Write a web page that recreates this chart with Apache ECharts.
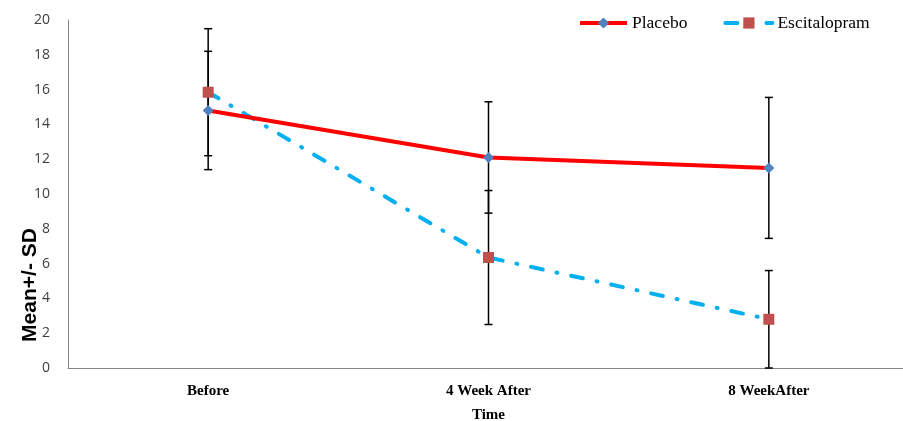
<!DOCTYPE html>
<html>
<head>
<meta charset="utf-8">
<script src="https://cdn.jsdelivr.net/npm/echarts@6/dist/echarts.min.js"></script>
<style>html,body{margin:0;padding:0;background:#fff;}#c{width:903px;height:421px;}</style>
</head>
<body>
<div id="c"></div>
<script>
var categories = ['Before', '4 Week After', '8 WeekAfter'];
var placeboMean = [14.8, 12.1, 11.5];
var placeboSD = [3.4, 3.2, 4.05];
var escitalopramMean = [15.85, 6.35, 2.8];
var escitalopramSD = [3.65, 3.85, 2.8];
var yTicks = [0, 2, 4, 6, 8, 10, 12, 14, 16, 18, 20];

function errData(mean, sd) {
  return mean.map(function (m, i) { return [i, m - sd[i], m + sd[i]]; });
}

function renderErr(params, api) {
  var x = api.value(0);
  var lo = api.coord([x, api.value(1)]);
  var hi = api.coord([x, api.value(2)]);
  var w = 4;
  var st = { stroke: '#000', lineWidth: 1.5 };
  return {
    type: 'group',
    children: [
      { type: 'line', shape: { x1: hi[0], y1: hi[1], x2: lo[0], y2: lo[1] }, style: st },
      { type: 'line', shape: { x1: hi[0] - w, y1: hi[1], x2: hi[0] + w, y2: hi[1] }, style: st },
      { type: 'line', shape: { x1: lo[0] - w, y1: lo[1], x2: lo[0] + w, y2: lo[1] }, style: st }
    ]
  };
}

var chart = echarts.init(document.getElementById('c'));
chart.setOption({
  animation: false,
  backgroundColor: '#fff',
  legend: {
    left: 573, top: 9,
    itemWidth: 47, itemHeight: 14, itemGap: 36,
    textStyle: { fontFamily: 'Liberation Serif', fontSize: 17.5, color: '#000' },
    data: [
      { name: 'Placebo', lineStyle: { width: 4, color: '#FF0000' }, itemStyle: { color: '#4F81BD' } },
      { name: 'Escitalopram', lineStyle: { width: 4, color: '#00B0F0', type: [12, 14, 1, 14], cap: 'round' }, itemStyle: { color: '#C0504D' } }
    ]
  },
  grid: { left: 68, top: 20, height: 348, width: 841, outerBoundsMode: 'none', containLabel: false },
  graphic: [{
    type: 'text', x: 30, y: 285, rotation: Math.PI / 2,
    style: { text: 'Mean+/- SD', fontFamily: 'Liberation Sans', fontWeight: 'bold', fontSize: 21, fill: '#000', align: 'center', verticalAlign: 'middle' }
  }],
  xAxis: {
    type: 'category', data: categories, boundaryGap: true,
    axisLine: { lineStyle: { color: '#868686', width: 1 } },
    axisTick: { show: false },
    axisLabel: { fontFamily: 'Liberation Serif', fontWeight: 'bold', fontSize: 15, color: '#000', margin: 16 },
    name: 'Time', nameLocation: 'middle', nameGap: 40,
    nameTextStyle: { fontFamily: 'Liberation Serif', fontWeight: 'bold', fontSize: 15, color: '#000' }
  },
  yAxis: {
    type: 'value', min: yTicks[0], max: yTicks[yTicks.length - 1], interval: 2,
    axisLine: { show: true, lineStyle: { color: '#868686', width: 1 } },
    axisTick: { show: false },
    splitLine: { show: false },
    axisLabel: { fontFamily: 'Open Sans', fontSize: 14, color: '#404040', margin: 18 }
  },
  series: [
    {
      name: 'errP', type: 'custom', renderItem: renderErr, data: errData(placeboMean, placeboSD),
      encode: { x: 0, y: [1, 2] }, z: 1, silent: true
    },
    {
      name: 'errE', type: 'custom', renderItem: renderErr, data: errData(escitalopramMean, escitalopramSD),
      encode: { x: 0, y: [1, 2] }, z: 1, silent: true
    },
    {
      name: 'Placebo', type: 'line', data: placeboMean, z: 3,
      symbol: 'diamond', symbolSize: 11,
      lineStyle: { color: '#FF0000', width: 4 },
      itemStyle: { color: '#4F81BD' }
    },
    {
      name: 'Escitalopram', type: 'line', data: escitalopramMean, z: 2,
      symbol: 'rect', symbolSize: 11,
      lineStyle: { color: '#00B0F0', width: 4, type: [12, 14, 1, 14], cap: 'round' },
      itemStyle: { color: '#C0504D' }
    }
  ]
});
</script>
</body>
</html>
